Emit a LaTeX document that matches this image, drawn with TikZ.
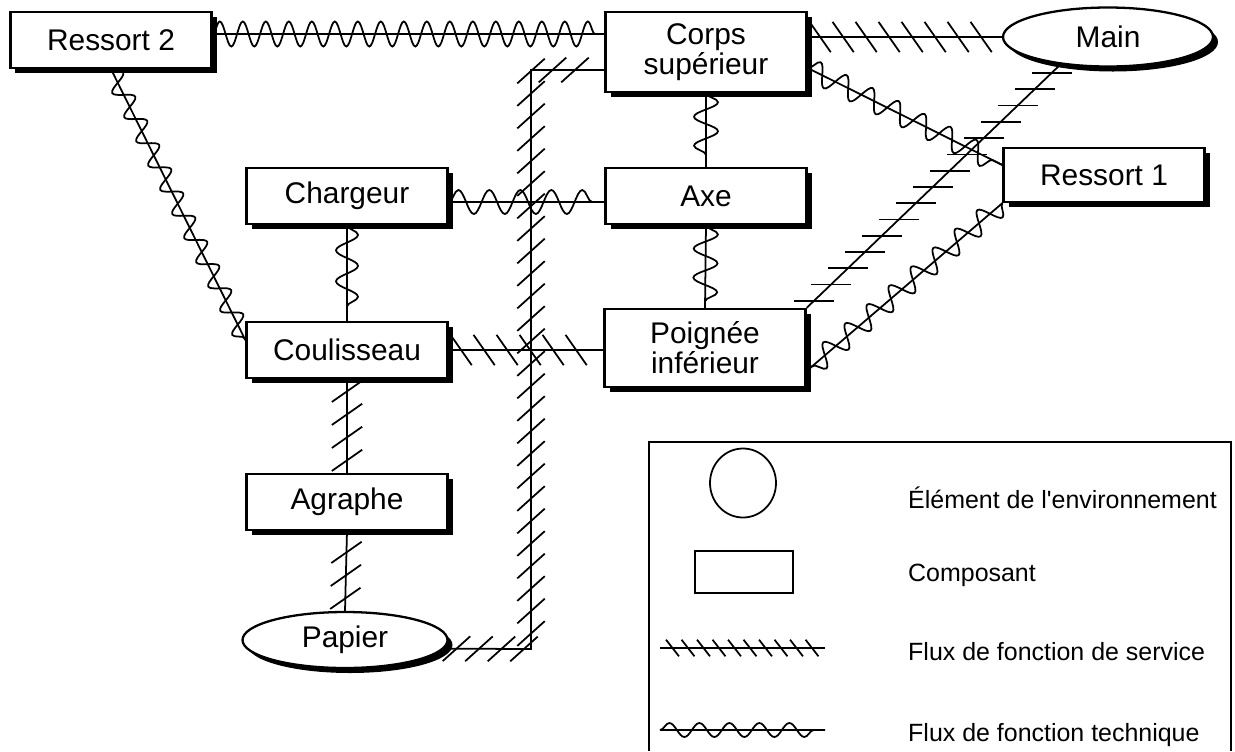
\documentclass[tikz,border=0pt]{standalone}
\usepackage{fontspec}
\setmainfont{Liberation Sans}
\usetikzlibrary{shapes.geometric,shadows,decorations.pathmorphing,decorations.markings}

\tikzset{
  hatch angle/.store in=\hatchangle, hatch angle=45,
  hatch len/.store in=\hatchlen, hatch len=3.7mm,
  hatch step/.store in=\hatchstep, hatch step=4.6mm,
  wave amp/.store in=\waveamp, wave amp=2.2mm,
  wave len/.store in=\wavelen, wave len=5.8mm,
  compo/.style={draw, line width=1.3pt, fill=white, minimum width=40.2mm,
    minimum height=11.2mm, align=center, font=\fontsize{17}{17}\selectfont,
    drop shadow={shadow xshift=1mm, shadow yshift=-1mm, fill=black, opacity=1}},
  envi/.style={compo, ellipse, inner sep=0pt},
  service/.style={draw, line width=1pt, postaction={decorate, decoration={markings,
    mark=between positions 2.5mm and -2mm step \hatchstep with {
      \pgftransformresetnontranslations
      \draw[line width=1pt] (\hatchangle:\hatchlen) -- (\hatchangle+180:\hatchlen);}}}},
  technique/.style={draw, line width=1pt, postaction={draw, decorate,
    decoration={snake, amplitude=\waveamp, segment length=\wavelen}}},
  legtext/.style={anchor=west, font=\fontsize{14.2}{16}\selectfont},
}

\begin{document}
\begin{tikzpicture}[x=0.2mm, y=-0.2mm]
\useasboundingbox (0,0) rectangle (1235,751);

% composants et elements du milieu exterieur
\node[compo] (ressort2) at (111,40) {Ressort 2};
\node[compo, minimum height=16mm] (corps) at (706,52) {Corps\\supérieur};
\node[envi, minimum width=42mm, minimum height=11.8mm] (main) at (1108,37) {Main};
\node[compo] (chargeur) at (347,196) {Chargeur};
\node[compo] (axe) at (706,196) {Axe};
\node[compo, minimum height=10.8mm] (ressort1) at (1104,175) {Ressort 1};
\node[compo] (coulisseau) at (347,350) {Coulisseau};
\node[compo, minimum height=15.6mm] (poignee) at (705,348) {Poignée\\inférieur};
\node[compo] (agraphe) at (347,502) {Agraphe};
\node[envi, minimum width=41mm, minimum height=11.2mm] (papier) at (345,640) {Papier};

% flux de fonction technique
\draw[technique, wave len=4.6mm, wave amp=2.5mm] ([yshift=1.2mm]ressort2.east) -- ([yshift=3.6mm]corps.west);
\draw[technique] ([yshift=-3.2mm]corps.east) -- ([yshift=2mm]ressort1.west);
\draw[technique] (ressort1.south west) -- ([yshift=-4.6mm]poignee.east);
\draw[technique, wave amp=2.4mm] (corps.south) -- (axe.north);
\draw[technique, wave amp=2.4mm] (axe.south) -- (poignee.north);
\draw[technique, wave len=6.2mm, wave amp=2.4mm] ([yshift=-1.2mm]chargeur.east) -- ([yshift=-1.2mm]axe.west);
\draw[technique, wave len=6.2mm] (chargeur.south) -- (coulisseau.north);
\draw[technique, wave len=5.4mm, wave amp=1.9mm] (ressort2.south) -- ([yshift=2mm]coulisseau.west);

% flux de fonction de service
\draw[service, hatch angle=-55] (corps.east |- main.west) -- (main.west);
\draw[service, hatch angle=0, hatch len=4mm, hatch step=4.7mm] (main.210) -- (poignee.north east);
\draw[service, hatch angle=-55] (coulisseau.east) -- (coulisseau.east -| poignee.west);
\draw[service, hatch angle=35] (agraphe.north) -- (coulisseau.south);
\draw[service, hatch angle=35] (papier.north) -- (agraphe.south);
\coordinate (coinbas) at (531,649);
\coordinate (coinhaut) at (531,70);
\draw[service, hatch angle=42, hatch step=4.5mm] (papier.-5) -- (coinbas) -- (coinhaut) -- (coinhaut -| corps.west);

% legende
\draw[line width=1.6pt] (649,751) -- (649,442) -- (1231,442) -- (1231,751);
\node[draw, ellipse, line width=1pt, minimum width=13.2mm, minimum height=13.8mm] (lgcercle) at (743,483) {};
\node[draw, line width=1pt, minimum width=19.6mm, minimum height=8.4mm] (lgrect) at (744,572) {};
\coordinate (lgs1) at (660,648);
\coordinate (lgs2) at (825,648);
\coordinate (lgt1) at (660,730);
\coordinate (lgt2) at (825,730);
\draw[service, hatch angle=-52, hatch len=2.1mm, hatch step=3.1mm] (lgs1) -- (lgs2);
\draw[technique, wave amp=1.4mm, wave len=6mm] (lgt1) -- (lgt2);
\node[legtext] (lgenv) at (902,498) {Élément de l\textquotesingle environnement};
\node[legtext] (lgcomp) at (902,575) {Composant};
\node[legtext] (lgserv) at (902,652) {Flux de fonction de service};
\node[legtext] (lgtech) at (902,735) {Flux de fonction technique};

\end{tikzpicture}
\end{document}
